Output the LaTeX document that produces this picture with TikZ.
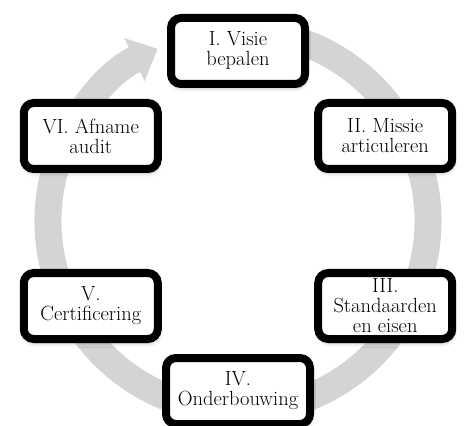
\documentclass[tikz,border=0pt]{standalone}
\usepackage{tikz}
\usetikzlibrary{positioning, calc, arrows.meta, shadows.blur}

\definecolor{ringgray}{RGB}{212,212,212}

\tikzset{
    stagebox/.style={draw, line width=8pt, rectangle, rounded corners=10pt, fill=white,
        minimum width=134pt, minimum height=66pt, inner sep=2pt, align=center,
        font=\fontsize{20.5}{20}\selectfont,
        blur shadow={shadow xshift=1pt, shadow yshift=-4pt, shadow blur radius=4pt, shadow opacity=30}},
}

\begin{document}
\begin{tikzpicture}[x=1pt, y=1pt]

    \useasboundingbox (-238,-204) rectangle (227,221);

    % ================= grijze kringpijl =================
    \draw[line width=27pt, ringgray, -{Triangle[length=0pt 0.95, width=0pt 1.7]}]
        (75:190) arc[start angle=75, end angle=-245, radius=190];

    % ================= stappen =================
    \node[stagebox] (visie)    at (90:170)   {I. Visie\\bepalen};
    \node[stagebox] (missie)   at (30:170)   {II. Missie\\articuleren};
    \node[stagebox] (standaard) at (-30:170) {III.\\Standaarden\\en eisen};
    \node[stagebox, minimum width=144pt] (onderbouw) at (-90:170) {IV.\\Onderbouwing};
    \node[stagebox] (certif)   at (-150:170) {V.\\Certificering};
    \node[stagebox] (afname)   at (150:170)  {VI. Afname\\audit};

\end{tikzpicture}
\end{document}
